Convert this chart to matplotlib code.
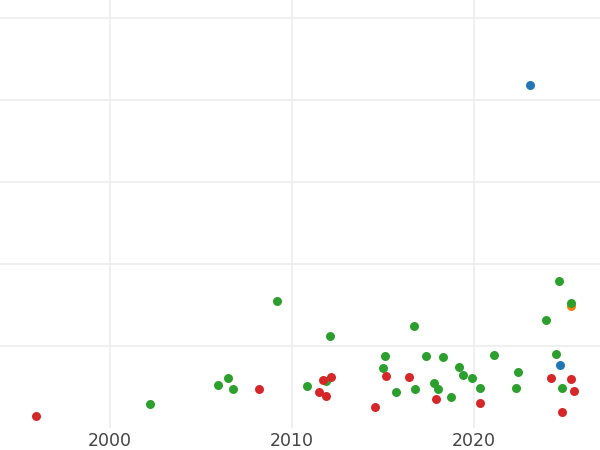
import matplotlib
matplotlib.use("Agg")
import matplotlib.pyplot as plt

# points, grouped by colour
blue_year = [2023.09, 2024.71]
blue_val = [83.7, 15.4]

orange_year = [2025.35]
orange_val = [29.7]

green_year = [2002.2, 2005.94, 2006.5, 2006.76, 2009.18, 2010.83, 2011.87, 2012.09,
              2015.02, 2015.11, 2015.74, 2016.72, 2016.78, 2017.38, 2017.82, 2018.01,
              2018.28, 2018.74, 2019.18, 2019.4, 2019.89, 2020.35, 2021.09, 2022.33,
              2022.42, 2023.98, 2024.51, 2024.66, 2024.82, 2025.32]
green_val = [5.9, 10.5, 12.2, 9.5, 31.0, 10.2, 11.5, 22.5,
             14.6, 17.6, 8.7, 24.8, 9.6, 17.6, 10.9, 9.4,
             17.2, 7.6, 14.8, 12.9, 12.1, 9.8, 17.7, 9.8,
             13.7, 26.4, 18.0, 35.9, 9.8, 30.5]

red_year = [1995.94, 2008.19, 2011.49, 2011.69, 2011.86, 2012.13, 2014.56, 2015.19,
            2016.42, 2017.9, 2020.35, 2024.25, 2024.83, 2025.35, 2025.5]
red_val = [2.9, 9.5, 8.9, 11.7, 7.9, 12.4, 5.2, 12.8,
           12.4, 7.1, 6.0, 12.1, 3.8, 12.0, 9.0]

xticks = [2000, 2010, 2020]

fig = plt.figure(figsize=(6, 4.5), dpi=100)
ax = fig.add_axes([0, 1 - 428 / 450, 1, 428 / 450])

kw = dict(s=42, linewidths=0, zorder=3)
ax.scatter(blue_year, blue_val, color="#1f77b4", **kw)
ax.scatter(orange_year, orange_val, color="#ff7f0e", **kw)
ax.scatter(green_year, green_val, color="#2ca02c", **kw)
ax.scatter(red_year, red_val, color="#d62728", **kw)

ax.set_xlim(1993.96, 2026.93)
ax.set_ylim(0, 104.4)
ax.set_xticks(xticks)
ax.set_xticklabels([str(t) for t in xticks])
ax.set_yticks([20, 40, 60, 80, 100])
ax.set_yticklabels([])
ax.tick_params(axis="both", length=0, labelsize=12.5, labelcolor="#444444", pad=3)
ax.grid(True, color="#ebebeb", linewidth=1.1, zorder=0)
ax.set_axisbelow(True)
for s in ax.spines.values():
    s.set_visible(False)

fig.savefig("out.png", dpi=100)
